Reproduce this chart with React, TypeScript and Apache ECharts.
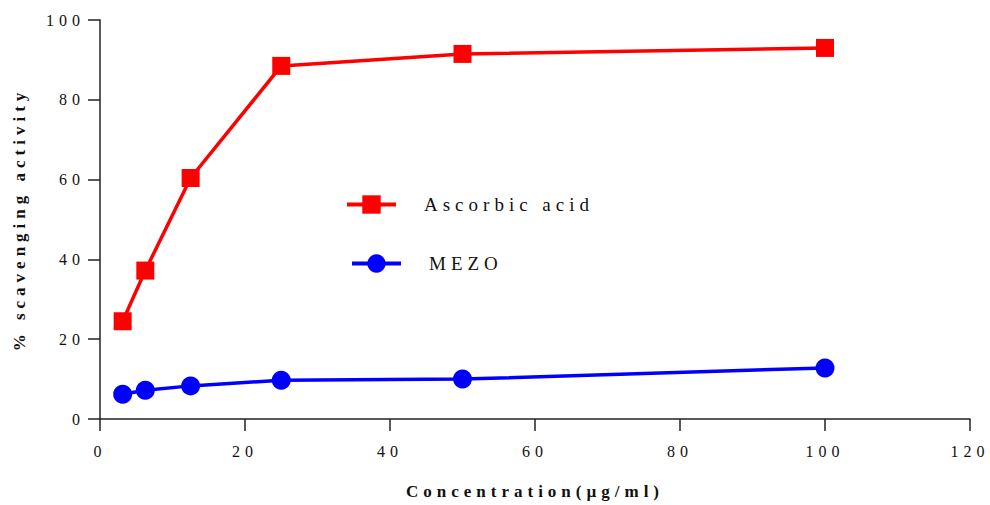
import React, { useEffect, useRef } from "react";
import * as echarts from "echarts";

const concentrations = [3.125, 6.25, 12.5, 25, 50, 100];
const ascorbicAcid = [24.5, 37.2, 60.4, 88.5, 91.5, 93.0];
const mezo = [6.2, 7.2, 8.3, 9.7, 10.0, 12.8];
const seriesNames = ["Ascorbic acid", "MEZO"];
const xAxisTitle = "Concentration(µg/ml)";
const yAxisTitle = "% scavenging activity";

const FONT = "Liberation Serif";

export default function App() {
  const ref = useRef<HTMLDivElement>(null);

  useEffect(() => {
    if (!ref.current) return;
    const chart = echarts.init(ref.current, undefined, { renderer: "svg" });
    const axisLine = { show: true, lineStyle: { color: "#222", width: 1.5 } };
    const pairs = (ys: number[]) => concentrations.map((x, i) => [x, ys[i]]);
    const legendBase = {
      orient: "vertical",
      padding: 0,
      itemWidth: 49,
      itemHeight: 23,
      selectedMode: false,
      lineStyle: { width: 4 },
      textStyle: { fontFamily: FONT, fontSize: 19, color: "#111", padding: [12, 0, 0, 23] },
    };
    chart.setOption({
      animation: false,
      backgroundColor: "#ffffff",
      textStyle: { fontFamily: FONT },
      grid: { left: 100, right: 20, top: 20, bottom: 85, containLabel: false },
      legend: [
        { ...legendBase, data: [seriesNames[0]], left: 345, top: 195 },
        { ...legendBase, data: [seriesNames[1]], left: 350, top: 254 },
      ],
      xAxis: {
        type: "value",
        min: 0,
        max: 120,
        interval: 20,
        name: xAxisTitle,
        nameLocation: "middle",
        nameGap: 64,
        nameTextStyle: { fontFamily: FONT, fontSize: 17, fontWeight: "bold", color: "#111" },
        axisLine,
        axisTick: { show: true, length: 12, lineStyle: { color: "#222", width: 1.5 } },
        axisLabel: { fontFamily: FONT, fontSize: 16, color: "#111", margin: 24 },
        splitLine: { show: false },
      },
      yAxis: {
        type: "value",
        min: 0,
        max: 100,
        interval: 20,
        name: yAxisTitle,
        nameLocation: "middle",
        nameGap: 72,
        nameTextStyle: { fontFamily: FONT, fontSize: 17, fontWeight: "bold", color: "#111" },
        axisLine,
        axisTick: { show: true, length: 12, lineStyle: { color: "#222", width: 1.5 } },
        axisLabel: { fontFamily: FONT, fontSize: 16, color: "#111", margin: 15 },
        splitLine: { show: false },
      },
      series: [
        {
          name: seriesNames[0],
          type: "line",
          data: pairs(ascorbicAcid),
          symbol: "rect",
          symbolSize: 18,
          lineStyle: { color: "#ff0000", width: 3.5 },
          itemStyle: { color: "#ff0000" },
        },
        {
          name: seriesNames[1],
          type: "line",
          data: pairs(mezo),
          symbol: "circle",
          symbolSize: 19,
          lineStyle: { color: "#0000ff", width: 3.5 },
          itemStyle: { color: "#0000ff" },
        },
      ],
    });
    return () => chart.dispose();
  }, []);

  return (
    <>
      <style>{`.chart-root text { letter-spacing: 5px; font-family: "Liberation Serif", "DejaVu Serif", serif !important; }`}</style>
      <div
        ref={ref}
        className="chart-root"
        style={{ position: "fixed", left: 0, top: 0, width: 990, height: 505, background: "#fff" }}
      />
    </>
  );
}
